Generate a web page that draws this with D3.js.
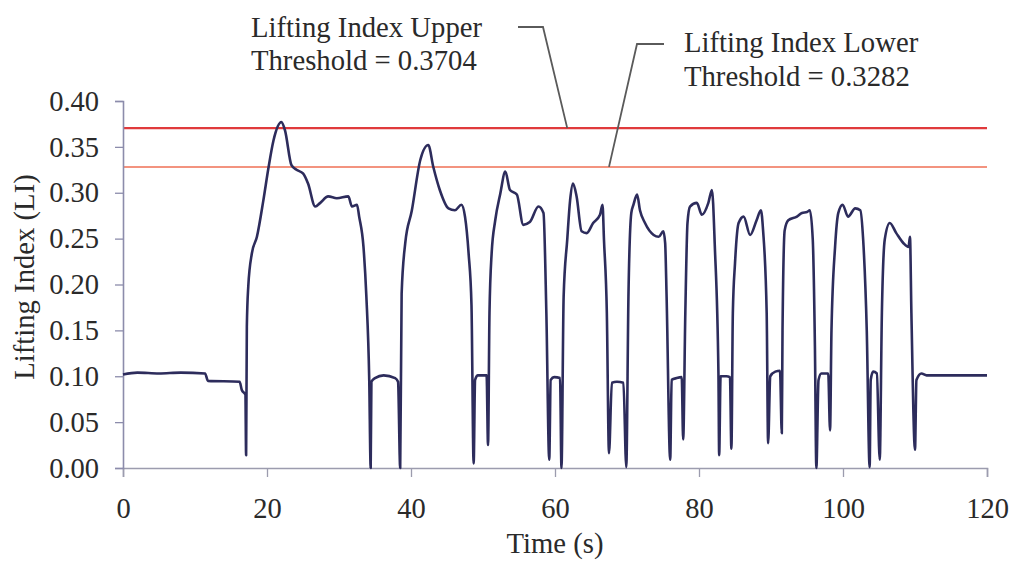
<!DOCTYPE html>
<html><head><meta charset="utf-8">
<script src="https://cdn.jsdelivr.net/npm/d3@7"></script>
<style>body{margin:0;background:#fff}svg{display:block}text{font-family:"Liberation Serif","Times New Roman",serif;fill:#2a2a2a}</style>
</head><body>
<svg id="c" width="1014" height="570"></svg>
<script>
const times = [0,2,5,8,11.4,11.8,16.2,16.5,17.0,17.1,17.2,17.4,17.9,18.6,19.5,20.2,20.9,22.0,22.5,23.4,24.1,25.0,25.7,26.7,27.4,28.5,29.7,31.3,31.8,32.5,32.8,33.4,33.8,34.2,34.4,34.5,35.0,36.2,37.8,38.2,38.5,38.7,39.2,40.1,41.3,42.4,43.1,44.0,45.2,46.1,47.0,47.5,48.0,48.4,48.7,48.9,49.3,50.5,50.7,50.9,51.2,51.7,52.4,53.1,53.75,54.7,55.6,56.5,57.7,58.4,58.8,59.2,59.4,59.9,60.7,60.9,61.2,61.7,62.1,62.5,63.0,63.7,64.4,65.3,66.25,66.6,66.8,67.2,67.5,67.9,68.6,69.5,69.9,70.2,70.6,70.9,71.4,71.8,72.5,73.7,74.4,75.05,75.3,75.5,76.0,76.2,76.9,77.6,77.8,78.1,78.4,78.75,79.7,80.4,81.3,81.8,82.2,82.7,82.8,83.0,83.8,84.3,84.5,84.7,85.0,85.5,86.2,87.1,88.0,88.6,88.9,89.4,89.6,89.9,90.6,91.25,91.5,91.6,91.9,92.4,93.6,94.3,95.0,95.4,95.8,96.1,96.3,96.6,97.0,97.95,98.2,98.4,98.9,99.35,99.95,100.7,101.7,102.4,102.8,103.3,103.7,103.85,104.2,104.7,105.1,105.4,105.8,106.5,107.4,108.4,109.1,109.3,109.5,110.0,110.2,110.9,111.6,120];
const liftingIndex = [0.102,0.104,0.103,0.104,0.103,0.095,0.094,0.085,0.080,0.014,0.154,0.198,0.234,0.252,0.292,0.327,0.357,0.377,0.368,0.330,0.325,0.321,0.310,0.285,0.289,0.296,0.294,0.296,0.285,0.287,0.274,0.241,0.187,0.096,0.000,0.094,0.098,0.101,0.098,0.094,0.000,0.190,0.245,0.280,0.336,0.352,0.328,0.303,0.283,0.281,0.287,0.274,0.234,0.178,0.005,0.096,0.101,0.101,0.025,0.169,0.234,0.270,0.299,0.323,0.303,0.298,0.265,0.268,0.285,0.278,0.169,0.009,0.096,0.099,0.098,0.000,0.187,0.249,0.292,0.310,0.296,0.258,0.256,0.267,0.276,0.287,0.249,0.169,0.016,0.093,0.094,0.093,0.001,0.187,0.278,0.287,0.298,0.281,0.267,0.254,0.252,0.258,0.245,0.187,0.009,0.096,0.098,0.099,0.031,0.169,0.267,0.285,0.289,0.276,0.289,0.303,0.241,0.103,0.014,0.100,0.100,0.099,0.021,0.169,0.223,0.267,0.274,0.254,0.270,0.281,0.259,0.169,0.027,0.100,0.105,0.106,0.038,0.150,0.259,0.270,0.274,0.278,0.279,0.281,0.249,0.132,0.000,0.096,0.103,0.103,0.041,0.150,0.241,0.278,0.287,0.274,0.283,0.281,0.249,0.150,0.001,0.096,0.105,0.103,0.009,0.169,0.249,0.267,0.256,0.245,0.241,0.252,0.169,0.020,0.096,0.103,0.101,0.101];
const xTicks = [0,20,40,60,80,100,120];
const yTicks = [0,0.05,0.10,0.15,0.20,0.25,0.30,0.35,0.40];
const upperThreshold = 0.3704;
const lowerThreshold = 0.3282;
const upperLabel = ["Lifting Index Upper","Threshold = 0.3704"];
const lowerLabel = ["Lifting Index Lower","Threshold = 0.3282"];

const FONT = "Liberation Serif, Times New Roman, serif";
const svg = d3.select("#c");
const x = d3.scaleLinear().domain([0,120]).range([123,987]);
const y = d3.scaleLinear().domain([0,0.4]).range([468,101]);

// thresholds
svg.append("line").attr("x1",x(0)).attr("x2",x(120)).attr("y1",y(upperThreshold)).attr("y2",y(upperThreshold))
  .attr("stroke","#e03a3c").attr("stroke-width",2.3);
svg.append("line").attr("x1",x(0)).attr("x2",x(120)).attr("y1",y(lowerThreshold)).attr("y2",y(lowerThreshold))
  .attr("stroke","#ef6f55").attr("stroke-width",1.5);

// axes
const xa = svg.append("g").attr("transform",`translate(0,${y(0)})`)
  .call(d3.axisBottom(x).tickValues(xTicks).tickSize(9).tickFormat(d3.format("d")));
xa.select(".domain").attr("stroke","#9c9cae").attr("stroke-width",1.6);
xa.selectAll(".tick line").attr("stroke","#9c9cae").attr("stroke-width",1.3);
xa.selectAll("text").attr("font-size",28.5).attr("font-family",FONT).attr("fill","#2a2a2a")
  .attr("y",50).attr("dy",0);

const ya = svg.append("g").attr("transform",`translate(${x(0)},0)`)
  .call(d3.axisLeft(y).tickValues(yTicks).tickSize(8).tickPadding(16).tickFormat(d3.format(".2f")));
ya.select(".domain").attr("stroke","#8c8cab").attr("stroke-width",1.6);
ya.selectAll(".tick line").attr("stroke","#8c8cab").attr("stroke-width",1.3);
ya.selectAll("text").attr("font-size",28.5).attr("font-family",FONT).attr("fill","#2a2a2a");

// data line
const pts = times.map((t,i)=>[t,liftingIndex[i]]);
svg.append("path").datum(pts)
  .attr("d", d3.line().curve(d3.curveMonotoneX).x(d=>x(d[0])).y(d=>y(d[1])))
  .attr("fill","none").attr("stroke","#2d2c5c").attr("stroke-width",2.6).attr("stroke-linejoin","round");

// leaders
svg.append("polyline").attr("points",`518,27 543,27 ${x(61.7)},${y(upperThreshold)}`)
  .attr("fill","none").attr("stroke","#5a5a5a").attr("stroke-width",1.8);
svg.append("polyline").attr("points",`664,44 637,44 ${x(67.5)},${y(lowerThreshold)}`)
  .attr("fill","none").attr("stroke","#5a5a5a").attr("stroke-width",1.8);

// labels
const ul = svg.append("text").attr("y",37).attr("font-size",28.7).attr("font-family",FONT);
ul.append("tspan").attr("x",251).text(upperLabel[0]);
ul.append("tspan").attr("x",251).attr("dy",33).text(upperLabel[1]);
const ll = svg.append("text").attr("y",52).attr("font-size",28.7).attr("font-family",FONT);
ll.append("tspan").attr("x",684).text(lowerLabel[0]);
ll.append("tspan").attr("x",684).attr("dy",34).text(lowerLabel[1]);

svg.append("text").attr("x",555).attr("y",553).attr("text-anchor","middle").attr("font-size",28.7).attr("font-family",FONT).text("Time (s)");
svg.append("text").attr("transform","translate(34,277) rotate(-90)").attr("text-anchor","middle").attr("font-size",28.7).attr("font-family",FONT).text("Lifting Index (LI)");
</script>
</body></html>
